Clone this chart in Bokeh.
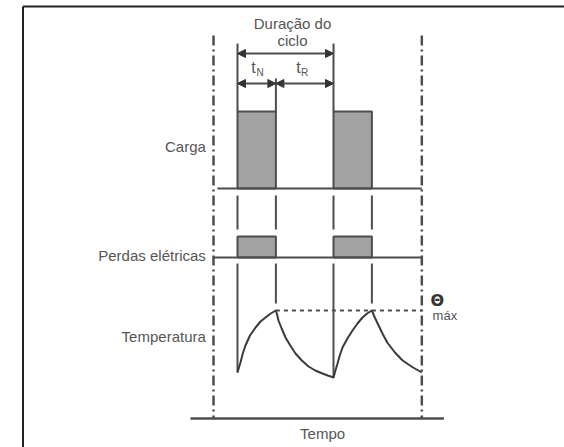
from bokeh.plotting import figure
from bokeh.models import Range1d, Arrow, NormalHead
from bokeh.core.properties import value
from bokeh.embed import file_html
from bokeh.resources import INLINE

# ---- time axis (cycle units): t_N = on time, t_R = rest time ----
t_N = 4.0
t_R = 6.0
period = t_N + t_R
pulse_start = [0.0, 10.0]
pulse_end = [4.0, 14.0]
edges = [0.0, 4.0, 10.0, 14.0]
t_window = [-2.5, 19.2]          # dash-dot limits
t_axis = [-4.9, 21.5]            # "Tempo" axis extent
t_label = -3.3                   # right edge of row labels

# ---- vertical levels (diagram units, top = small) ----
carga_base, carga_top = 188, 111
perdas_base, perdas_top = 257, 236
temp_max = 310
axis_level = 418

# ---- temperature curve ----
temp_t = [0.0, 0.15, 0.31, 0.55, 0.83, 1.3, 1.88, 2.4, 2.92, 3.45, 4.0,
          4.15, 4.27, 4.6, 5.0, 5.5, 6.04, 6.7, 7.4, 8.1, 8.85, 9.4, 10.0,
          10.2, 10.42, 10.65, 10.94, 11.45, 11.98, 12.5, 13.02, 13.5, 14.0,
          14.3, 14.6, 15.1, 15.6, 16.4, 17.2, 18.2, 19.2]
temp_y = [372, 367, 362, 353, 345, 335, 327, 321, 317, 313, 310,
          315, 320, 328, 337, 345, 353, 360, 366, 370, 373, 375, 377,
          370, 363, 355, 347, 338, 330, 323, 317, 313, 310,
          317, 323, 333, 342, 352, 360, 366.5, 372]

row_labels = ["Carga", "Perdas elétricas", "Temperatura"]
row_label_y = [146, 255, 336]

LINE = "#4d4d4d"
FILL = "#a3a3a3"
TXT = "#555555"
FONT = value("Liberation Sans")

scale = 9.6  # px per time unit in the reference
p = figure(width=564, height=447, output_backend="svg", toolbar_location=None,
           x_range=Range1d((0 - 237) / scale, (564 - 237) / scale),
           y_range=Range1d(447, 0), min_border=0)
p.axis.visible = False
p.grid.visible = False
p.outline_line_color = None
p.background_fill_color = "white"

# frame (left + top lines)
bx = (22.5 - 237) / scale
p.segment(x0=[bx, bx], y0=[6, 6], x1=[bx, (564 - 237) / scale], y1=[447, 6],
          line_color="#222222", line_width=2)

# dash-dot window lines
p.segment(x0=t_window, y0=[35, 35], x1=t_window, y1=[axis_level, axis_level],
          line_color=LINE, line_width=2.5, line_dash="10 4 2 4")

# Tempo axis
p.line(x=t_axis, y=[axis_level, axis_level], line_color=LINE, line_width=2.5)

# Carga pulses
p.quad(left=pulse_start, right=pulse_end, bottom=carga_base, top=carga_top,
       fill_color=FILL, line_color=LINE, line_width=2)
p.line(x=[-2.1, t_window[1]], y=[carga_base, carga_base], line_color=LINE, line_width=2)

# Perdas pulses
p.quad(left=pulse_start, right=pulse_end, bottom=perdas_base, top=perdas_top,
       fill_color=FILL, line_color=LINE, line_width=2)
p.line(x=t_window, y=[perdas_base, perdas_base], line_color=LINE, line_width=2)

# guide verticals
p.segment(x0=[0, 10], y0=[43, 43], x1=[0, 10], y1=[carga_top, carga_top],
          line_color=LINE, line_width=2)
p.segment(x0=[4], y0=[78], x1=[4], y1=[carga_top], line_color=LINE, line_width=2)
p.segment(x0=edges, y0=[195] * 4, x1=edges, y1=[229] * 4, line_color=LINE, line_width=2)
p.segment(x0=edges, y0=[263] * 4, x1=edges, y1=[372, 303, 377, 303],
          line_color=LINE, line_width=2)

# temperature curve
p.line(x=temp_t, y=temp_y, line_color="#3a3a3a", line_width=2, line_join="round")
p.line(x=[t_N, t_window[1]], y=[temp_max, temp_max], line_color=LINE,
       line_width=2, line_dash="4 4")

# arrows
for xs, xe, yy in [(0, period, 53), (0, t_N, 83), (t_N, period, 83)]:
    p.add_layout(Arrow(x_start=xs, y_start=yy, x_end=xe, y_end=yy,
                       line_color=LINE, line_width=2,
                       start=NormalHead(size=8, fill_color="#333333", line_color="#333333"),
                       end=NormalHead(size=8, fill_color="#333333", line_color="#333333")))

# texts
p.text(x=[t_label] * 3, y=row_label_y, text=row_labels, text_align="right",
       text_baseline="middle", text_font=FONT, text_font_size="15px", text_color=TXT)
p.text(x=[5.73, 5.73], y=[23, 40], text=["Duração do", "ciclo"], text_align="center",
       text_baseline="middle", text_font=FONT, text_font_size="15px", text_color=TXT)
p.text(x=[8.86], y=[433], text=["Tempo"], text_align="center",
       text_baseline="middle", text_font=FONT, text_font_size="15px", text_color=TXT)
p.text(x=[1.67, 6.35], y=[67, 67], text=["t", "t"], text_align="center",
       text_baseline="middle", text_font=FONT, text_font_size="16px", text_color=TXT)
p.text(x=[2.35, 7.0], y=[72, 72], text=["N", "R"], text_align="center",
       text_baseline="middle", text_font=FONT, text_font_size="10px", text_color=TXT)
p.text(x=[20.8], y=[300], text=["Θ"], text_align="center",
       text_baseline="middle", text_font=value("DejaVu Sans"), text_font_size="16px",
       text_font_style="bold", text_color="#333333")
p.text(x=[21.6], y=[315], text=["máx"], text_align="center",
       text_baseline="middle", text_font=FONT, text_font_size="13px", text_color=TXT)

open("out.html", "w").write(file_html(p, INLINE))
